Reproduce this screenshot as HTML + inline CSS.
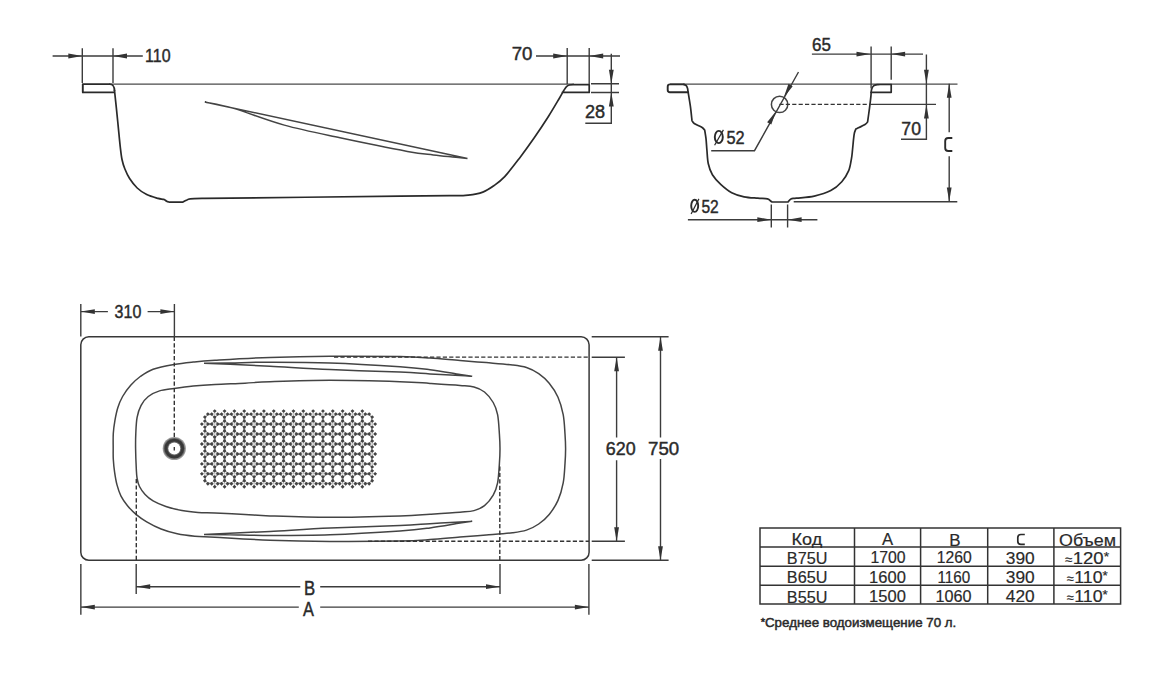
<!DOCTYPE html>
<html><head><meta charset="utf-8"><style>
html,body{margin:0;padding:0;background:#fff;width:1162px;height:686px;overflow:hidden}
svg{display:block}
.o{fill:none;stroke:#2a2a2a;stroke-width:1.7;stroke-linejoin:round;stroke-linecap:round}
.o2{fill:none;stroke:#383838;stroke-width:1.5}
.t{fill:none;stroke:#444;stroke-width:1.5}
.d{fill:none;stroke:#3c3c3c;stroke-width:1.4}
.tl{fill:none;stroke:#4a4a4a;stroke-width:1.4}
.dash{fill:none;stroke:#333;stroke-width:1.4;stroke-dasharray:4.2 2.2}
.tb{fill:none;stroke:#333;stroke-width:1.5}
polygon{fill:#333}
text{font-family:"Liberation Sans",sans-serif;fill:#2a2a2a;stroke:#2a2a2a;stroke-width:0.45}
text.tab{stroke-width:0.2}
text.foot{stroke-width:0.45}
</style></head><body>
<svg width="1162" height="686" viewBox="0 0 1162 686">
<path class="tl" d="M109,84.1 H574"/>
<path class="o" style="stroke-width:1.9" d="M82.8,92.3 V84.1 H109.7 C112.5,84.1 114.5,87 114.5,90.5"/>
<path class="o" d="M82.8,92.3 H114.3"/>
<path class="o" d="M114.50,90.50 C114.82,93.48 115.77,102.27 116.40,108.40 C117.03,114.53 117.67,120.98 118.30,127.30 C118.93,133.62 119.58,140.93 120.20,146.30 C120.82,151.67 121.22,155.72 122.00,159.50 C122.78,163.28 123.63,165.83 124.90,169.00 C126.17,172.17 127.55,175.33 129.60,178.50 C131.65,181.67 134.35,185.32 137.20,188.00 C140.05,190.68 143.23,192.87 146.70,194.60 C150.17,196.33 155.17,197.60 158.00,198.40 C160.83,199.20 162.27,198.93 163.70,199.40 C165.13,199.87 165.65,200.73 166.60,201.20 C167.55,201.67 168.93,202.03 169.40,202.20 L182.70,202.20 C183.32,201.88 185.15,200.85 186.40,200.30 C187.65,199.75 187.10,199.22 190.20,198.90 C193.30,198.58 202.53,198.48 205.00,198.40 C237.50,198.03 358.33,196.67 400.00,196.20 C441.67,195.73 443.63,195.77 455.00,195.60 C466.37,195.43 463.57,195.78 468.20,195.20 C472.83,194.62 478.53,193.68 482.80,192.10 C487.07,190.52 490.15,188.28 493.80,185.70 C497.45,183.12 500.45,181.15 504.70,176.60 C508.95,172.05 514.43,164.78 519.30,158.40 C524.17,152.02 529.05,145.28 533.90,138.30 C538.75,131.32 544.15,123.18 548.40,116.50 C552.65,109.82 556.88,102.45 559.40,98.20 C561.92,93.95 562.32,92.93 563.50,91.00 C564.68,89.07 565.50,87.60 566.50,86.60 C567.50,85.60 568.25,85.32 569.50,85.00 C570.75,84.68 573.25,84.75 574.00,84.70 L589.20,84.70 L589.20,92.40 L562.30,92.40"/>
<path class="t" d="M204.8,102 L467.5,158.5 M204.80,102.00 C209.62,103.07 220.45,104.55 233.70,108.40 C246.95,112.25 266.58,120.20 284.30,125.10 C302.02,130.00 319.48,133.42 340.00,137.80 C360.52,142.18 391.85,148.55 407.40,151.40 C422.95,154.25 425.77,153.97 433.30,154.90 C440.83,155.83 446.90,156.40 452.60,157.00 C458.30,157.60 465.02,158.25 467.50,158.50"/>
<path class="d" d="M52.6,56 H142.8 M82.3,48.3 V83 M113,48.3 V83"/>
<polygon points="82.3,56.0 68.3,53.6 68.3,58.4"/>
<polygon points="113.0,56.0 127.0,53.6 127.0,58.4"/>
<path class="d" d="M536,56 H620 M567.2,48 V84 M589.2,48 V84"/>
<polygon points="567.2,56.0 553.2,53.6 553.2,58.4"/>
<polygon points="589.2,56.0 603.2,53.6 603.2,58.4"/>
<path class="d" d="M591,83.7 H619 M591,92.5 H619 M611.3,53.8 V123.3 H585.3"/>
<polygon points="611.3,83.7 608.9,69.7 613.7,69.7"/>
<polygon points="611.3,92.5 608.9,106.5 613.7,106.5"/>
<path class="tl" d="M670,84.1 H957.5"/>
<path class="o" style="stroke-width:1.9" d="M684,84.4 H670 Q667.7,84.4 667.7,86.7 V90 Q667.7,92.2 670,92.2 H688.2"/>
<path class="o" d="M683.80,84.40 C684.22,84.60 685.67,84.90 686.30,85.60 C686.93,86.30 687.32,87.65 687.60,88.60 C687.88,89.55 687.53,88.33 688.00,91.30 C688.47,94.27 689.73,101.50 690.40,106.40 C691.07,111.30 691.73,118.32 692.00,120.70 C692.37,121.17 692.57,122.40 694.20,123.50 C695.83,124.60 700.05,126.20 701.80,127.30 C703.55,128.40 704.22,129.63 704.70,130.10 C704.92,131.53 705.63,135.38 706.00,138.70 C706.37,142.02 706.52,145.82 706.90,150.00 C707.28,154.18 707.38,159.67 708.30,163.80 C709.22,167.93 710.33,171.37 712.40,174.80 C714.47,178.23 717.48,181.42 720.70,184.40 C723.92,187.38 727.80,190.63 731.70,192.70 C735.60,194.77 739.75,195.88 744.10,196.80 C748.45,197.72 753.90,197.85 757.80,198.20 C761.70,198.55 765.32,198.40 767.50,198.90 C769.68,199.40 770.10,200.68 770.90,201.20 C771.70,201.72 772.07,201.87 772.30,202.00 L788.10,202.00 C788.57,201.48 789.52,199.53 790.90,198.90 C792.28,198.27 792.50,198.67 796.40,198.20 C800.30,197.73 808.57,197.37 814.30,196.10 C820.03,194.83 826.22,193.00 830.80,190.60 C835.38,188.20 838.82,185.02 841.80,181.70 C844.78,178.38 847.08,174.60 848.70,170.70 C850.32,166.80 850.87,161.75 851.50,158.30 C852.13,154.85 852.15,153.27 852.50,150.00 C852.85,146.73 853.28,141.53 853.60,138.70 C853.92,135.87 854.03,134.60 854.40,133.00 C854.77,131.40 855.57,129.75 855.80,129.10 C857.33,128.33 863.03,125.70 865.00,124.50 C866.97,123.30 867.17,122.33 867.60,121.90 C867.92,119.60 868.95,112.37 869.50,108.10 C870.05,103.83 870.57,99.37 870.90,96.30 C871.23,93.23 871.07,91.45 871.50,89.70 C871.93,87.95 872.42,86.65 873.50,85.80 C874.58,84.95 876.58,84.82 878.00,84.60 C879.42,84.38 881.33,84.52 882.00,84.50 L891.20,84.50"/>
<path class="o" d="M871,92.3 H891.2 V84.5"/>
<circle class="t" cx="779.6" cy="104.4" r="8.2"/>
<path class="dash" d="M779.4,104.4 H870"/>
<path class="d" d="M870,104.4 H936"/>
<path class="d" d="M798.5,72 L754.5,150.7 H711.2"/>
<polygon points="783.8,97.2 788.5,83.8 792.7,86.2"/>
<polygon points="776.0,111.2 771.3,124.6 767.1,122.2"/>
<path class="d" d="M811.9,54.1 H923 M871.1,46.6 V88.4 M891.2,46.6 V79.8"/>
<polygon points="870.5,54.1 856.5,51.7 856.5,56.5"/>
<polygon points="891.1,54.1 905.1,51.7 905.1,56.5"/>
<path class="d" d="M926.4,54.5 V139.3 H901"/>
<polygon points="926.4,83.8 924.0,69.8 928.8,69.8"/>
<polygon points="926.4,104.4 924.0,118.4 928.8,118.4"/>
<path class="d" d="M949.2,83.8 V132.3 M949.2,156.3 V201.4 M793.7,201.7 H957.3"/>
<polygon points="949.2,83.8 946.8,97.8 951.6,97.8"/>
<polygon points="949.2,201.4 946.8,187.4 951.6,187.4"/>
<path class="d" d="M771.3,204.5 V227.6 M787.6,204.5 V227.6 M687.9,219.7 H817.4"/>
<polygon points="771.3,219.7 757.3,217.3 757.3,222.1"/>
<polygon points="787.6,219.7 801.6,217.3 801.6,222.1"/>
<ellipse cx="718.8" cy="137" rx="4.0" ry="6.1" fill="none" stroke="#2a2a2a" stroke-width="1.9"/><path d="M714.6,145.3 L723.4,129.9" stroke="#2a2a2a" stroke-width="1.2"/>
<ellipse cx="694.7" cy="205.8" rx="3.5" ry="6.1" fill="none" stroke="#2a2a2a" stroke-width="1.9"/><path d="M691.1,214 L698.9,198.9" stroke="#2a2a2a" stroke-width="1.2"/>
<path d="M952.3,138 H948.3 Q945.2,138 945.2,141.1 V147.9 Q945.2,151 948.3,151 H952.3" fill="none" stroke="#2a2a2a" stroke-width="1.9"/>
<path d="M1024.8,534.5 H1020.9 Q1017.8,534.5 1017.8,537.6 V541.2 Q1017.8,544.3 1020.9,544.3 H1024.8" fill="none" stroke="#2a2a2a" stroke-width="1.7"/>
<rect class="o2" x="80.8" y="336.8" width="508.3" height="223.4" rx="8" ry="8"/>
<path class="t" d="M113.20,448.80 C113.20,444.50 113.02,438.10 113.30,433.40 C113.58,428.70 114.15,424.88 114.90,420.60 C115.65,416.32 116.52,411.72 117.80,407.70 C119.08,403.68 120.45,400.23 122.60,396.50 C124.75,392.77 127.75,388.63 130.70,385.30 C133.65,381.97 136.57,379.18 140.30,376.50 C144.03,373.82 147.48,371.22 153.10,369.20 C158.72,367.18 167.32,365.60 174.00,364.40 C180.68,363.20 186.37,362.68 193.20,362.00 C200.03,361.32 202.20,361.07 215.00,360.30 C227.80,359.53 250.83,358.08 270.00,357.40 C289.17,356.72 308.33,356.33 330.00,356.20 C351.67,356.07 383.33,356.30 400.00,356.60 C416.67,356.90 420.00,357.33 430.00,358.00 C440.00,358.67 450.63,359.83 460.00,360.60 C469.37,361.37 477.45,361.88 486.20,362.60 C494.95,363.32 505.78,364.08 512.50,364.90 C519.22,365.72 522.13,366.05 526.50,367.50 C530.87,368.95 534.92,370.98 538.70,373.60 C542.48,376.22 545.98,379.27 549.20,383.20 C552.42,387.13 555.67,391.95 558.00,397.20 C560.33,402.45 562.03,408.57 563.20,414.70 C564.37,420.83 564.60,428.32 565.00,434.00 C565.40,439.68 565.60,443.87 565.60,448.80 C565.60,453.73 565.40,457.92 565.00,463.60 C564.60,469.28 564.37,476.77 563.20,482.90 C562.03,489.03 560.33,495.15 558.00,500.40 C555.67,505.65 552.42,510.47 549.20,514.40 C545.98,518.33 542.48,521.38 538.70,524.00 C534.92,526.62 530.87,528.65 526.50,530.10 C522.13,531.55 519.22,531.88 512.50,532.70 C505.78,533.52 494.95,534.28 486.20,535.00 C477.45,535.72 469.37,536.23 460.00,537.00 C450.63,537.77 440.00,538.93 430.00,539.60 C420.00,540.27 416.67,540.70 400.00,541.00 C383.33,541.30 351.67,541.53 330.00,541.40 C308.33,541.27 289.17,540.88 270.00,540.20 C250.83,539.52 227.53,537.97 215.00,537.30 C202.47,536.63 201.10,536.78 194.80,536.20 C188.50,535.62 182.82,535.00 177.20,533.80 C171.58,532.60 166.18,531.00 161.10,529.00 C156.02,527.00 150.83,524.20 146.70,521.80 C142.57,519.40 139.50,517.28 136.30,514.60 C133.10,511.92 130.05,508.78 127.50,505.70 C124.95,502.62 122.75,499.57 121.00,496.10 C119.25,492.63 118.07,488.90 117.00,484.90 C115.93,480.90 115.22,476.38 114.60,472.10 C113.98,467.82 113.53,463.08 113.30,459.20 C113.07,455.32 113.20,453.10 113.20,448.80 Z"/>
<path class="t" d="M135.60,448.80 C135.52,442.88 135.55,438.63 135.80,433.40 C136.05,428.17 136.22,422.08 137.10,417.40 C137.98,412.72 139.23,408.78 141.10,405.30 C142.97,401.82 145.23,398.90 148.30,396.50 C151.37,394.10 155.22,392.23 159.50,390.90 C163.78,389.57 168.38,389.30 174.00,388.50 C179.62,387.70 186.37,386.77 193.20,386.10 C200.03,385.43 206.37,384.98 215.00,384.50 C223.63,384.02 235.83,383.67 245.00,383.20 C254.17,382.73 255.83,382.18 270.00,381.70 C284.17,381.22 308.33,380.30 330.00,380.30 C351.67,380.30 383.33,381.18 400.00,381.70 C416.67,382.22 420.00,382.78 430.00,383.40 C440.00,384.02 452.67,384.80 460.00,385.40 C467.33,386.00 469.92,385.90 474.00,387.00 C478.08,388.10 481.30,389.42 484.50,392.00 C487.70,394.58 491.02,398.72 493.20,402.50 C495.38,406.28 496.57,409.45 497.60,414.70 C498.63,419.95 499.00,428.32 499.40,434.00 C499.80,439.68 500.00,443.87 500.00,448.80 C500.00,453.73 499.80,457.92 499.40,463.60 C499.00,469.28 498.63,477.65 497.60,482.90 C496.57,488.15 495.38,491.32 493.20,495.10 C491.02,498.88 487.70,503.02 484.50,505.60 C481.30,508.18 478.08,509.50 474.00,510.60 C469.92,511.70 467.33,511.60 460.00,512.20 C452.67,512.80 440.00,513.58 430.00,514.20 C420.00,514.82 416.67,515.38 400.00,515.90 C383.33,516.42 351.67,517.30 330.00,517.30 C308.33,517.30 284.17,516.38 270.00,515.90 C255.83,515.42 254.17,514.87 245.00,514.40 C235.83,513.93 222.83,513.42 215.00,513.10 C207.17,512.78 203.50,512.92 198.00,512.50 C192.50,512.08 187.35,511.60 182.00,510.60 C176.65,509.60 170.72,508.12 165.90,506.50 C161.08,504.88 156.57,502.90 153.10,500.90 C149.63,498.90 147.37,496.90 145.10,494.50 C142.83,492.10 140.83,489.17 139.50,486.50 C138.17,483.83 137.63,481.43 137.10,478.50 C136.57,475.57 136.55,473.85 136.30,468.90 C136.05,463.95 135.68,454.72 135.60,448.80 Z"/>
<path class="t" d="M204.00,363.20 C208.33,363.15 219.00,363.07 230.00,362.90 C241.00,362.73 253.33,362.20 270.00,362.20 C286.67,362.20 308.33,362.15 330.00,362.90 C351.67,363.65 383.33,365.57 400.00,366.70 C416.67,367.83 420.00,368.40 430.00,369.70 C440.00,371.00 452.97,373.40 460.00,374.50 C467.03,375.60 470.17,376.00 472.20,376.30 M204.00,363.20 C208.33,363.38 219.00,363.80 230.00,364.30 C241.00,364.80 253.33,365.32 270.00,366.20 C286.67,367.08 308.33,368.62 330.00,369.60 C351.67,370.58 383.33,371.38 400.00,372.10 C416.67,372.82 420.00,373.33 430.00,373.90 C440.00,374.47 452.97,375.10 460.00,375.50 C467.03,375.90 470.17,376.17 472.20,376.30"/>
<path class="t" d="M204.00,534.40 C208.33,534.45 219.00,534.53 230.00,534.70 C241.00,534.87 253.33,535.40 270.00,535.40 C286.67,535.40 308.33,535.45 330.00,534.70 C351.67,533.95 383.33,532.03 400.00,530.90 C416.67,529.77 420.00,529.20 430.00,527.90 C440.00,526.60 452.97,524.20 460.00,523.10 C467.03,522.00 470.17,521.60 472.20,521.30 M204.00,534.40 C208.33,534.22 219.00,533.80 230.00,533.30 C241.00,532.80 253.33,532.28 270.00,531.40 C286.67,530.52 308.33,528.98 330.00,528.00 C351.67,527.02 383.33,526.22 400.00,525.50 C416.67,524.78 420.00,524.27 430.00,523.70 C440.00,523.13 452.97,522.50 460.00,522.10 C467.03,521.70 470.17,521.43 472.20,521.30"/>
<circle cx="174.3" cy="448.5" r="11.6" fill="#9a9a9a"/><circle cx="174.3" cy="448.5" r="10.6" fill="#666"/><circle cx="174.3" cy="448.5" r="8.4" fill="none" stroke="#383838" stroke-width="2.8"/><circle cx="174.3" cy="448.5" r="6.0" fill="#fff"/>
<path class="d" d="M174.3,447 V450.4"/>
<path class="dash" d="M174.3,336.8 V438 M334,357.1 H589 M368,541.2 H589 M136.3,479 V560 M499.8,466.5 V560"/>
<path class="d" d="M80.8,304 V336.6 M174.4,304 V337 M80.8,311.6 H107.9 M147.6,311.6 H174.4"/>
<polygon points="80.8,311.6 94.8,309.2 94.8,314.0"/>
<polygon points="174.4,311.6 160.4,309.2 160.4,314.0"/>
<path class="d" d="M591.7,336.7 H668.6 M591.7,357.2 H624.9 M591.7,541.2 H624.9 M591.7,560.3 H668.6 M616.6,357.2 V437.5 M616.6,460.2 V541.2 M660.5,336.7 V437.5 M660.5,459 V560.3"/>
<polygon points="616.6,357.2 614.2,371.2 619.0,371.2"/>
<polygon points="616.6,541.2 614.2,527.2 619.0,527.2"/>
<polygon points="660.5,336.7 658.1,350.7 662.9,350.7"/>
<polygon points="660.5,560.3 658.1,546.3 662.9,546.3"/>
<path class="d" d="M80.85,563.9 V614.8 M588.9,563.9 V614.8 M136.2,563.9 V594.1 M500,563.9 V594.1 M136.2,586.7 H300.3 M320.2,586.7 H500 M80.85,607.1 H298.8 M320.2,607.1 H588.9"/>
<polygon points="136.2,586.7 150.2,584.3 150.2,589.1"/>
<polygon points="500.0,586.7 486.0,584.3 486.0,589.1"/>
<polygon points="80.8,607.1 94.8,604.7 94.8,609.5"/>
<polygon points="588.9,607.1 574.9,604.7 574.9,609.5"/>
<g fill="#c4c4c4"><circle cx="204.88" cy="424.08" r="1.00"/><circle cx="204.88" cy="434.03" r="1.00"/><circle cx="204.88" cy="443.98" r="1.00"/><circle cx="204.88" cy="453.93" r="1.00"/><circle cx="204.88" cy="463.88" r="1.00"/><circle cx="204.88" cy="473.83" r="1.00"/><circle cx="214.72" cy="414.12" r="1.00"/><circle cx="214.72" cy="424.08" r="1.00"/><circle cx="214.72" cy="434.03" r="1.00"/><circle cx="214.72" cy="443.98" r="1.00"/><circle cx="214.72" cy="453.93" r="1.00"/><circle cx="214.72" cy="463.88" r="1.00"/><circle cx="214.72" cy="473.83" r="1.00"/><circle cx="214.72" cy="483.78" r="1.00"/><circle cx="224.56" cy="414.12" r="1.00"/><circle cx="224.56" cy="424.08" r="1.00"/><circle cx="224.56" cy="434.03" r="1.00"/><circle cx="224.56" cy="443.98" r="1.00"/><circle cx="224.56" cy="453.93" r="1.00"/><circle cx="224.56" cy="463.88" r="1.00"/><circle cx="224.56" cy="473.83" r="1.00"/><circle cx="224.56" cy="483.78" r="1.00"/><circle cx="234.40" cy="414.12" r="1.00"/><circle cx="234.40" cy="424.08" r="1.00"/><circle cx="234.40" cy="434.03" r="1.00"/><circle cx="234.40" cy="443.98" r="1.00"/><circle cx="234.40" cy="453.93" r="1.00"/><circle cx="234.40" cy="463.88" r="1.00"/><circle cx="234.40" cy="473.83" r="1.00"/><circle cx="234.40" cy="483.78" r="1.00"/><circle cx="244.24" cy="414.12" r="1.00"/><circle cx="244.24" cy="424.08" r="1.00"/><circle cx="244.24" cy="434.03" r="1.00"/><circle cx="244.24" cy="443.98" r="1.00"/><circle cx="244.24" cy="453.93" r="1.00"/><circle cx="244.24" cy="463.88" r="1.00"/><circle cx="244.24" cy="473.83" r="1.00"/><circle cx="244.24" cy="483.78" r="1.00"/><circle cx="254.08" cy="414.12" r="1.00"/><circle cx="254.08" cy="424.08" r="1.00"/><circle cx="254.08" cy="434.03" r="1.00"/><circle cx="254.08" cy="443.98" r="1.00"/><circle cx="254.08" cy="453.93" r="1.00"/><circle cx="254.08" cy="463.88" r="1.00"/><circle cx="254.08" cy="473.83" r="1.00"/><circle cx="254.08" cy="483.78" r="1.00"/><circle cx="263.92" cy="414.12" r="1.00"/><circle cx="263.92" cy="424.08" r="1.00"/><circle cx="263.92" cy="434.03" r="1.00"/><circle cx="263.92" cy="443.98" r="1.00"/><circle cx="263.92" cy="453.93" r="1.00"/><circle cx="263.92" cy="463.88" r="1.00"/><circle cx="263.92" cy="473.83" r="1.00"/><circle cx="263.92" cy="483.78" r="1.00"/><circle cx="273.76" cy="414.12" r="1.00"/><circle cx="273.76" cy="424.08" r="1.00"/><circle cx="273.76" cy="434.03" r="1.00"/><circle cx="273.76" cy="443.98" r="1.00"/><circle cx="273.76" cy="453.93" r="1.00"/><circle cx="273.76" cy="463.88" r="1.00"/><circle cx="273.76" cy="473.83" r="1.00"/><circle cx="273.76" cy="483.78" r="1.00"/><circle cx="283.60" cy="414.12" r="1.00"/><circle cx="283.60" cy="424.08" r="1.00"/><circle cx="283.60" cy="434.03" r="1.00"/><circle cx="283.60" cy="443.98" r="1.00"/><circle cx="283.60" cy="453.93" r="1.00"/><circle cx="283.60" cy="463.88" r="1.00"/><circle cx="283.60" cy="473.83" r="1.00"/><circle cx="283.60" cy="483.78" r="1.00"/><circle cx="293.44" cy="414.12" r="1.00"/><circle cx="293.44" cy="424.08" r="1.00"/><circle cx="293.44" cy="434.03" r="1.00"/><circle cx="293.44" cy="443.98" r="1.00"/><circle cx="293.44" cy="453.93" r="1.00"/><circle cx="293.44" cy="463.88" r="1.00"/><circle cx="293.44" cy="473.83" r="1.00"/><circle cx="293.44" cy="483.78" r="1.00"/><circle cx="303.28" cy="414.12" r="1.00"/><circle cx="303.28" cy="424.08" r="1.00"/><circle cx="303.28" cy="434.03" r="1.00"/><circle cx="303.28" cy="443.98" r="1.00"/><circle cx="303.28" cy="453.93" r="1.00"/><circle cx="303.28" cy="463.88" r="1.00"/><circle cx="303.28" cy="473.83" r="1.00"/><circle cx="303.28" cy="483.78" r="1.00"/><circle cx="313.12" cy="414.12" r="1.00"/><circle cx="313.12" cy="424.08" r="1.00"/><circle cx="313.12" cy="434.03" r="1.00"/><circle cx="313.12" cy="443.98" r="1.00"/><circle cx="313.12" cy="453.93" r="1.00"/><circle cx="313.12" cy="463.88" r="1.00"/><circle cx="313.12" cy="473.83" r="1.00"/><circle cx="313.12" cy="483.78" r="1.00"/><circle cx="322.96" cy="414.12" r="1.00"/><circle cx="322.96" cy="424.08" r="1.00"/><circle cx="322.96" cy="434.03" r="1.00"/><circle cx="322.96" cy="443.98" r="1.00"/><circle cx="322.96" cy="453.93" r="1.00"/><circle cx="322.96" cy="463.88" r="1.00"/><circle cx="322.96" cy="473.83" r="1.00"/><circle cx="322.96" cy="483.78" r="1.00"/><circle cx="332.80" cy="414.12" r="1.00"/><circle cx="332.80" cy="424.08" r="1.00"/><circle cx="332.80" cy="434.03" r="1.00"/><circle cx="332.80" cy="443.98" r="1.00"/><circle cx="332.80" cy="453.93" r="1.00"/><circle cx="332.80" cy="463.88" r="1.00"/><circle cx="332.80" cy="473.83" r="1.00"/><circle cx="332.80" cy="483.78" r="1.00"/><circle cx="342.64" cy="414.12" r="1.00"/><circle cx="342.64" cy="424.08" r="1.00"/><circle cx="342.64" cy="434.03" r="1.00"/><circle cx="342.64" cy="443.98" r="1.00"/><circle cx="342.64" cy="453.93" r="1.00"/><circle cx="342.64" cy="463.88" r="1.00"/><circle cx="342.64" cy="473.83" r="1.00"/><circle cx="342.64" cy="483.78" r="1.00"/><circle cx="352.48" cy="414.12" r="1.00"/><circle cx="352.48" cy="424.08" r="1.00"/><circle cx="352.48" cy="434.03" r="1.00"/><circle cx="352.48" cy="443.98" r="1.00"/><circle cx="352.48" cy="453.93" r="1.00"/><circle cx="352.48" cy="463.88" r="1.00"/><circle cx="352.48" cy="473.83" r="1.00"/><circle cx="352.48" cy="483.78" r="1.00"/><circle cx="362.32" cy="414.12" r="1.00"/><circle cx="362.32" cy="424.08" r="1.00"/><circle cx="362.32" cy="434.03" r="1.00"/><circle cx="362.32" cy="443.98" r="1.00"/><circle cx="362.32" cy="453.93" r="1.00"/><circle cx="362.32" cy="463.88" r="1.00"/><circle cx="362.32" cy="473.83" r="1.00"/><circle cx="362.32" cy="483.78" r="1.00"/><circle cx="372.16" cy="424.08" r="1.00"/><circle cx="372.16" cy="434.03" r="1.00"/><circle cx="372.16" cy="443.98" r="1.00"/><circle cx="372.16" cy="453.93" r="1.00"/><circle cx="372.16" cy="463.88" r="1.00"/><circle cx="372.16" cy="473.83" r="1.00"/></g>
<g fill="none" stroke="#999" stroke-width="1.20"><circle cx="209.80" cy="419.10" r="4.40"/><circle cx="209.80" cy="429.05" r="4.40"/><circle cx="209.80" cy="439.00" r="4.40"/><circle cx="209.80" cy="448.95" r="4.40"/><circle cx="209.80" cy="458.90" r="4.40"/><circle cx="209.80" cy="468.85" r="4.40"/><circle cx="209.80" cy="478.80" r="4.40"/><circle cx="219.64" cy="419.10" r="4.40"/><circle cx="219.64" cy="429.05" r="4.40"/><circle cx="219.64" cy="439.00" r="4.40"/><circle cx="219.64" cy="448.95" r="4.40"/><circle cx="219.64" cy="458.90" r="4.40"/><circle cx="219.64" cy="468.85" r="4.40"/><circle cx="219.64" cy="478.80" r="4.40"/><circle cx="229.48" cy="419.10" r="4.40"/><circle cx="229.48" cy="429.05" r="4.40"/><circle cx="229.48" cy="439.00" r="4.40"/><circle cx="229.48" cy="448.95" r="4.40"/><circle cx="229.48" cy="458.90" r="4.40"/><circle cx="229.48" cy="468.85" r="4.40"/><circle cx="229.48" cy="478.80" r="4.40"/><circle cx="239.32" cy="419.10" r="4.40"/><circle cx="239.32" cy="429.05" r="4.40"/><circle cx="239.32" cy="439.00" r="4.40"/><circle cx="239.32" cy="448.95" r="4.40"/><circle cx="239.32" cy="458.90" r="4.40"/><circle cx="239.32" cy="468.85" r="4.40"/><circle cx="239.32" cy="478.80" r="4.40"/><circle cx="249.16" cy="419.10" r="4.40"/><circle cx="249.16" cy="429.05" r="4.40"/><circle cx="249.16" cy="439.00" r="4.40"/><circle cx="249.16" cy="448.95" r="4.40"/><circle cx="249.16" cy="458.90" r="4.40"/><circle cx="249.16" cy="468.85" r="4.40"/><circle cx="249.16" cy="478.80" r="4.40"/><circle cx="259.00" cy="419.10" r="4.40"/><circle cx="259.00" cy="429.05" r="4.40"/><circle cx="259.00" cy="439.00" r="4.40"/><circle cx="259.00" cy="448.95" r="4.40"/><circle cx="259.00" cy="458.90" r="4.40"/><circle cx="259.00" cy="468.85" r="4.40"/><circle cx="259.00" cy="478.80" r="4.40"/><circle cx="268.84" cy="419.10" r="4.40"/><circle cx="268.84" cy="429.05" r="4.40"/><circle cx="268.84" cy="439.00" r="4.40"/><circle cx="268.84" cy="448.95" r="4.40"/><circle cx="268.84" cy="458.90" r="4.40"/><circle cx="268.84" cy="468.85" r="4.40"/><circle cx="268.84" cy="478.80" r="4.40"/><circle cx="278.68" cy="419.10" r="4.40"/><circle cx="278.68" cy="429.05" r="4.40"/><circle cx="278.68" cy="439.00" r="4.40"/><circle cx="278.68" cy="448.95" r="4.40"/><circle cx="278.68" cy="458.90" r="4.40"/><circle cx="278.68" cy="468.85" r="4.40"/><circle cx="278.68" cy="478.80" r="4.40"/><circle cx="288.52" cy="419.10" r="4.40"/><circle cx="288.52" cy="429.05" r="4.40"/><circle cx="288.52" cy="439.00" r="4.40"/><circle cx="288.52" cy="448.95" r="4.40"/><circle cx="288.52" cy="458.90" r="4.40"/><circle cx="288.52" cy="468.85" r="4.40"/><circle cx="288.52" cy="478.80" r="4.40"/><circle cx="298.36" cy="419.10" r="4.40"/><circle cx="298.36" cy="429.05" r="4.40"/><circle cx="298.36" cy="439.00" r="4.40"/><circle cx="298.36" cy="448.95" r="4.40"/><circle cx="298.36" cy="458.90" r="4.40"/><circle cx="298.36" cy="468.85" r="4.40"/><circle cx="298.36" cy="478.80" r="4.40"/><circle cx="308.20" cy="419.10" r="4.40"/><circle cx="308.20" cy="429.05" r="4.40"/><circle cx="308.20" cy="439.00" r="4.40"/><circle cx="308.20" cy="448.95" r="4.40"/><circle cx="308.20" cy="458.90" r="4.40"/><circle cx="308.20" cy="468.85" r="4.40"/><circle cx="308.20" cy="478.80" r="4.40"/><circle cx="318.04" cy="419.10" r="4.40"/><circle cx="318.04" cy="429.05" r="4.40"/><circle cx="318.04" cy="439.00" r="4.40"/><circle cx="318.04" cy="448.95" r="4.40"/><circle cx="318.04" cy="458.90" r="4.40"/><circle cx="318.04" cy="468.85" r="4.40"/><circle cx="318.04" cy="478.80" r="4.40"/><circle cx="327.88" cy="419.10" r="4.40"/><circle cx="327.88" cy="429.05" r="4.40"/><circle cx="327.88" cy="439.00" r="4.40"/><circle cx="327.88" cy="448.95" r="4.40"/><circle cx="327.88" cy="458.90" r="4.40"/><circle cx="327.88" cy="468.85" r="4.40"/><circle cx="327.88" cy="478.80" r="4.40"/><circle cx="337.72" cy="419.10" r="4.40"/><circle cx="337.72" cy="429.05" r="4.40"/><circle cx="337.72" cy="439.00" r="4.40"/><circle cx="337.72" cy="448.95" r="4.40"/><circle cx="337.72" cy="458.90" r="4.40"/><circle cx="337.72" cy="468.85" r="4.40"/><circle cx="337.72" cy="478.80" r="4.40"/><circle cx="347.56" cy="419.10" r="4.40"/><circle cx="347.56" cy="429.05" r="4.40"/><circle cx="347.56" cy="439.00" r="4.40"/><circle cx="347.56" cy="448.95" r="4.40"/><circle cx="347.56" cy="458.90" r="4.40"/><circle cx="347.56" cy="468.85" r="4.40"/><circle cx="347.56" cy="478.80" r="4.40"/><circle cx="357.40" cy="419.10" r="4.40"/><circle cx="357.40" cy="429.05" r="4.40"/><circle cx="357.40" cy="439.00" r="4.40"/><circle cx="357.40" cy="448.95" r="4.40"/><circle cx="357.40" cy="458.90" r="4.40"/><circle cx="357.40" cy="468.85" r="4.40"/><circle cx="357.40" cy="478.80" r="4.40"/><circle cx="367.24" cy="419.10" r="4.40"/><circle cx="367.24" cy="429.05" r="4.40"/><circle cx="367.24" cy="439.00" r="4.40"/><circle cx="367.24" cy="448.95" r="4.40"/><circle cx="367.24" cy="458.90" r="4.40"/><circle cx="367.24" cy="468.85" r="4.40"/><circle cx="367.24" cy="478.80" r="4.40"/></g>
<path fill="#444" d="M205.93,414.12l1.95,-1.95l1.95,1.95l-1.95,1.95zM202.93,417.12l1.95,-1.95l1.95,1.95l-1.95,1.95zM205.93,424.08l1.95,-1.95l1.95,1.95l-1.95,1.95zM199.93,424.08l1.95,-1.95l1.95,1.95l-1.95,1.95zM202.93,427.08l1.95,-1.95l1.95,1.95l-1.95,1.95zM202.93,421.08l1.95,-1.95l1.95,1.95l-1.95,1.95zM205.93,434.03l1.95,-1.95l1.95,1.95l-1.95,1.95zM199.93,434.03l1.95,-1.95l1.95,1.95l-1.95,1.95zM202.93,437.03l1.95,-1.95l1.95,1.95l-1.95,1.95zM202.93,431.03l1.95,-1.95l1.95,1.95l-1.95,1.95zM205.93,443.98l1.95,-1.95l1.95,1.95l-1.95,1.95zM199.93,443.98l1.95,-1.95l1.95,1.95l-1.95,1.95zM202.93,446.98l1.95,-1.95l1.95,1.95l-1.95,1.95zM202.93,440.98l1.95,-1.95l1.95,1.95l-1.95,1.95zM205.93,453.93l1.95,-1.95l1.95,1.95l-1.95,1.95zM199.93,453.93l1.95,-1.95l1.95,1.95l-1.95,1.95zM202.93,456.93l1.95,-1.95l1.95,1.95l-1.95,1.95zM202.93,450.93l1.95,-1.95l1.95,1.95l-1.95,1.95zM205.93,463.88l1.95,-1.95l1.95,1.95l-1.95,1.95zM199.93,463.88l1.95,-1.95l1.95,1.95l-1.95,1.95zM202.93,466.88l1.95,-1.95l1.95,1.95l-1.95,1.95zM202.93,460.88l1.95,-1.95l1.95,1.95l-1.95,1.95zM205.93,473.83l1.95,-1.95l1.95,1.95l-1.95,1.95zM199.93,473.83l1.95,-1.95l1.95,1.95l-1.95,1.95zM202.93,476.83l1.95,-1.95l1.95,1.95l-1.95,1.95zM202.93,470.83l1.95,-1.95l1.95,1.95l-1.95,1.95zM205.93,483.78l1.95,-1.95l1.95,1.95l-1.95,1.95zM202.93,480.78l1.95,-1.95l1.95,1.95l-1.95,1.95zM215.77,414.12l1.95,-1.95l1.95,1.95l-1.95,1.95zM209.77,414.12l1.95,-1.95l1.95,1.95l-1.95,1.95zM212.77,417.12l1.95,-1.95l1.95,1.95l-1.95,1.95zM212.77,411.12l1.95,-1.95l1.95,1.95l-1.95,1.95zM215.77,424.08l1.95,-1.95l1.95,1.95l-1.95,1.95zM209.77,424.08l1.95,-1.95l1.95,1.95l-1.95,1.95zM212.77,427.08l1.95,-1.95l1.95,1.95l-1.95,1.95zM212.77,421.08l1.95,-1.95l1.95,1.95l-1.95,1.95zM215.77,434.03l1.95,-1.95l1.95,1.95l-1.95,1.95zM209.77,434.03l1.95,-1.95l1.95,1.95l-1.95,1.95zM212.77,437.03l1.95,-1.95l1.95,1.95l-1.95,1.95zM212.77,431.03l1.95,-1.95l1.95,1.95l-1.95,1.95zM215.77,443.98l1.95,-1.95l1.95,1.95l-1.95,1.95zM209.77,443.98l1.95,-1.95l1.95,1.95l-1.95,1.95zM212.77,446.98l1.95,-1.95l1.95,1.95l-1.95,1.95zM212.77,440.98l1.95,-1.95l1.95,1.95l-1.95,1.95zM215.77,453.93l1.95,-1.95l1.95,1.95l-1.95,1.95zM209.77,453.93l1.95,-1.95l1.95,1.95l-1.95,1.95zM212.77,456.93l1.95,-1.95l1.95,1.95l-1.95,1.95zM212.77,450.93l1.95,-1.95l1.95,1.95l-1.95,1.95zM215.77,463.88l1.95,-1.95l1.95,1.95l-1.95,1.95zM209.77,463.88l1.95,-1.95l1.95,1.95l-1.95,1.95zM212.77,466.88l1.95,-1.95l1.95,1.95l-1.95,1.95zM212.77,460.88l1.95,-1.95l1.95,1.95l-1.95,1.95zM215.77,473.83l1.95,-1.95l1.95,1.95l-1.95,1.95zM209.77,473.83l1.95,-1.95l1.95,1.95l-1.95,1.95zM212.77,476.83l1.95,-1.95l1.95,1.95l-1.95,1.95zM212.77,470.83l1.95,-1.95l1.95,1.95l-1.95,1.95zM215.77,483.78l1.95,-1.95l1.95,1.95l-1.95,1.95zM209.77,483.78l1.95,-1.95l1.95,1.95l-1.95,1.95zM212.77,486.78l1.95,-1.95l1.95,1.95l-1.95,1.95zM212.77,480.78l1.95,-1.95l1.95,1.95l-1.95,1.95zM225.61,414.12l1.95,-1.95l1.95,1.95l-1.95,1.95zM219.61,414.12l1.95,-1.95l1.95,1.95l-1.95,1.95zM222.61,417.12l1.95,-1.95l1.95,1.95l-1.95,1.95zM222.61,411.12l1.95,-1.95l1.95,1.95l-1.95,1.95zM225.61,424.08l1.95,-1.95l1.95,1.95l-1.95,1.95zM219.61,424.08l1.95,-1.95l1.95,1.95l-1.95,1.95zM222.61,427.08l1.95,-1.95l1.95,1.95l-1.95,1.95zM222.61,421.08l1.95,-1.95l1.95,1.95l-1.95,1.95zM225.61,434.03l1.95,-1.95l1.95,1.95l-1.95,1.95zM219.61,434.03l1.95,-1.95l1.95,1.95l-1.95,1.95zM222.61,437.03l1.95,-1.95l1.95,1.95l-1.95,1.95zM222.61,431.03l1.95,-1.95l1.95,1.95l-1.95,1.95zM225.61,443.98l1.95,-1.95l1.95,1.95l-1.95,1.95zM219.61,443.98l1.95,-1.95l1.95,1.95l-1.95,1.95zM222.61,446.98l1.95,-1.95l1.95,1.95l-1.95,1.95zM222.61,440.98l1.95,-1.95l1.95,1.95l-1.95,1.95zM225.61,453.93l1.95,-1.95l1.95,1.95l-1.95,1.95zM219.61,453.93l1.95,-1.95l1.95,1.95l-1.95,1.95zM222.61,456.93l1.95,-1.95l1.95,1.95l-1.95,1.95zM222.61,450.93l1.95,-1.95l1.95,1.95l-1.95,1.95zM225.61,463.88l1.95,-1.95l1.95,1.95l-1.95,1.95zM219.61,463.88l1.95,-1.95l1.95,1.95l-1.95,1.95zM222.61,466.88l1.95,-1.95l1.95,1.95l-1.95,1.95zM222.61,460.88l1.95,-1.95l1.95,1.95l-1.95,1.95zM225.61,473.83l1.95,-1.95l1.95,1.95l-1.95,1.95zM219.61,473.83l1.95,-1.95l1.95,1.95l-1.95,1.95zM222.61,476.83l1.95,-1.95l1.95,1.95l-1.95,1.95zM222.61,470.83l1.95,-1.95l1.95,1.95l-1.95,1.95zM225.61,483.78l1.95,-1.95l1.95,1.95l-1.95,1.95zM219.61,483.78l1.95,-1.95l1.95,1.95l-1.95,1.95zM222.61,486.78l1.95,-1.95l1.95,1.95l-1.95,1.95zM222.61,480.78l1.95,-1.95l1.95,1.95l-1.95,1.95zM235.45,414.12l1.95,-1.95l1.95,1.95l-1.95,1.95zM229.45,414.12l1.95,-1.95l1.95,1.95l-1.95,1.95zM232.45,417.12l1.95,-1.95l1.95,1.95l-1.95,1.95zM232.45,411.12l1.95,-1.95l1.95,1.95l-1.95,1.95zM235.45,424.08l1.95,-1.95l1.95,1.95l-1.95,1.95zM229.45,424.08l1.95,-1.95l1.95,1.95l-1.95,1.95zM232.45,427.08l1.95,-1.95l1.95,1.95l-1.95,1.95zM232.45,421.08l1.95,-1.95l1.95,1.95l-1.95,1.95zM235.45,434.03l1.95,-1.95l1.95,1.95l-1.95,1.95zM229.45,434.03l1.95,-1.95l1.95,1.95l-1.95,1.95zM232.45,437.03l1.95,-1.95l1.95,1.95l-1.95,1.95zM232.45,431.03l1.95,-1.95l1.95,1.95l-1.95,1.95zM235.45,443.98l1.95,-1.95l1.95,1.95l-1.95,1.95zM229.45,443.98l1.95,-1.95l1.95,1.95l-1.95,1.95zM232.45,446.98l1.95,-1.95l1.95,1.95l-1.95,1.95zM232.45,440.98l1.95,-1.95l1.95,1.95l-1.95,1.95zM235.45,453.93l1.95,-1.95l1.95,1.95l-1.95,1.95zM229.45,453.93l1.95,-1.95l1.95,1.95l-1.95,1.95zM232.45,456.93l1.95,-1.95l1.95,1.95l-1.95,1.95zM232.45,450.93l1.95,-1.95l1.95,1.95l-1.95,1.95zM235.45,463.88l1.95,-1.95l1.95,1.95l-1.95,1.95zM229.45,463.88l1.95,-1.95l1.95,1.95l-1.95,1.95zM232.45,466.88l1.95,-1.95l1.95,1.95l-1.95,1.95zM232.45,460.88l1.95,-1.95l1.95,1.95l-1.95,1.95zM235.45,473.83l1.95,-1.95l1.95,1.95l-1.95,1.95zM229.45,473.83l1.95,-1.95l1.95,1.95l-1.95,1.95zM232.45,476.83l1.95,-1.95l1.95,1.95l-1.95,1.95zM232.45,470.83l1.95,-1.95l1.95,1.95l-1.95,1.95zM235.45,483.78l1.95,-1.95l1.95,1.95l-1.95,1.95zM229.45,483.78l1.95,-1.95l1.95,1.95l-1.95,1.95zM232.45,486.78l1.95,-1.95l1.95,1.95l-1.95,1.95zM232.45,480.78l1.95,-1.95l1.95,1.95l-1.95,1.95zM245.29,414.12l1.95,-1.95l1.95,1.95l-1.95,1.95zM239.29,414.12l1.95,-1.95l1.95,1.95l-1.95,1.95zM242.29,417.12l1.95,-1.95l1.95,1.95l-1.95,1.95zM242.29,411.12l1.95,-1.95l1.95,1.95l-1.95,1.95zM245.29,424.08l1.95,-1.95l1.95,1.95l-1.95,1.95zM239.29,424.08l1.95,-1.95l1.95,1.95l-1.95,1.95zM242.29,427.08l1.95,-1.95l1.95,1.95l-1.95,1.95zM242.29,421.08l1.95,-1.95l1.95,1.95l-1.95,1.95zM245.29,434.03l1.95,-1.95l1.95,1.95l-1.95,1.95zM239.29,434.03l1.95,-1.95l1.95,1.95l-1.95,1.95zM242.29,437.03l1.95,-1.95l1.95,1.95l-1.95,1.95zM242.29,431.03l1.95,-1.95l1.95,1.95l-1.95,1.95zM245.29,443.98l1.95,-1.95l1.95,1.95l-1.95,1.95zM239.29,443.98l1.95,-1.95l1.95,1.95l-1.95,1.95zM242.29,446.98l1.95,-1.95l1.95,1.95l-1.95,1.95zM242.29,440.98l1.95,-1.95l1.95,1.95l-1.95,1.95zM245.29,453.93l1.95,-1.95l1.95,1.95l-1.95,1.95zM239.29,453.93l1.95,-1.95l1.95,1.95l-1.95,1.95zM242.29,456.93l1.95,-1.95l1.95,1.95l-1.95,1.95zM242.29,450.93l1.95,-1.95l1.95,1.95l-1.95,1.95zM245.29,463.88l1.95,-1.95l1.95,1.95l-1.95,1.95zM239.29,463.88l1.95,-1.95l1.95,1.95l-1.95,1.95zM242.29,466.88l1.95,-1.95l1.95,1.95l-1.95,1.95zM242.29,460.88l1.95,-1.95l1.95,1.95l-1.95,1.95zM245.29,473.83l1.95,-1.95l1.95,1.95l-1.95,1.95zM239.29,473.83l1.95,-1.95l1.95,1.95l-1.95,1.95zM242.29,476.83l1.95,-1.95l1.95,1.95l-1.95,1.95zM242.29,470.83l1.95,-1.95l1.95,1.95l-1.95,1.95zM245.29,483.78l1.95,-1.95l1.95,1.95l-1.95,1.95zM239.29,483.78l1.95,-1.95l1.95,1.95l-1.95,1.95zM242.29,486.78l1.95,-1.95l1.95,1.95l-1.95,1.95zM242.29,480.78l1.95,-1.95l1.95,1.95l-1.95,1.95zM255.13,414.12l1.95,-1.95l1.95,1.95l-1.95,1.95zM249.13,414.12l1.95,-1.95l1.95,1.95l-1.95,1.95zM252.13,417.12l1.95,-1.95l1.95,1.95l-1.95,1.95zM252.13,411.12l1.95,-1.95l1.95,1.95l-1.95,1.95zM255.13,424.08l1.95,-1.95l1.95,1.95l-1.95,1.95zM249.13,424.08l1.95,-1.95l1.95,1.95l-1.95,1.95zM252.13,427.08l1.95,-1.95l1.95,1.95l-1.95,1.95zM252.13,421.08l1.95,-1.95l1.95,1.95l-1.95,1.95zM255.13,434.03l1.95,-1.95l1.95,1.95l-1.95,1.95zM249.13,434.03l1.95,-1.95l1.95,1.95l-1.95,1.95zM252.13,437.03l1.95,-1.95l1.95,1.95l-1.95,1.95zM252.13,431.03l1.95,-1.95l1.95,1.95l-1.95,1.95zM255.13,443.98l1.95,-1.95l1.95,1.95l-1.95,1.95zM249.13,443.98l1.95,-1.95l1.95,1.95l-1.95,1.95zM252.13,446.98l1.95,-1.95l1.95,1.95l-1.95,1.95zM252.13,440.98l1.95,-1.95l1.95,1.95l-1.95,1.95zM255.13,453.93l1.95,-1.95l1.95,1.95l-1.95,1.95zM249.13,453.93l1.95,-1.95l1.95,1.95l-1.95,1.95zM252.13,456.93l1.95,-1.95l1.95,1.95l-1.95,1.95zM252.13,450.93l1.95,-1.95l1.95,1.95l-1.95,1.95zM255.13,463.88l1.95,-1.95l1.95,1.95l-1.95,1.95zM249.13,463.88l1.95,-1.95l1.95,1.95l-1.95,1.95zM252.13,466.88l1.95,-1.95l1.95,1.95l-1.95,1.95zM252.13,460.88l1.95,-1.95l1.95,1.95l-1.95,1.95zM255.13,473.83l1.95,-1.95l1.95,1.95l-1.95,1.95zM249.13,473.83l1.95,-1.95l1.95,1.95l-1.95,1.95zM252.13,476.83l1.95,-1.95l1.95,1.95l-1.95,1.95zM252.13,470.83l1.95,-1.95l1.95,1.95l-1.95,1.95zM255.13,483.78l1.95,-1.95l1.95,1.95l-1.95,1.95zM249.13,483.78l1.95,-1.95l1.95,1.95l-1.95,1.95zM252.13,486.78l1.95,-1.95l1.95,1.95l-1.95,1.95zM252.13,480.78l1.95,-1.95l1.95,1.95l-1.95,1.95zM264.97,414.12l1.95,-1.95l1.95,1.95l-1.95,1.95zM258.97,414.12l1.95,-1.95l1.95,1.95l-1.95,1.95zM261.97,417.12l1.95,-1.95l1.95,1.95l-1.95,1.95zM261.97,411.12l1.95,-1.95l1.95,1.95l-1.95,1.95zM264.97,424.08l1.95,-1.95l1.95,1.95l-1.95,1.95zM258.97,424.08l1.95,-1.95l1.95,1.95l-1.95,1.95zM261.97,427.08l1.95,-1.95l1.95,1.95l-1.95,1.95zM261.97,421.08l1.95,-1.95l1.95,1.95l-1.95,1.95zM264.97,434.03l1.95,-1.95l1.95,1.95l-1.95,1.95zM258.97,434.03l1.95,-1.95l1.95,1.95l-1.95,1.95zM261.97,437.03l1.95,-1.95l1.95,1.95l-1.95,1.95zM261.97,431.03l1.95,-1.95l1.95,1.95l-1.95,1.95zM264.97,443.98l1.95,-1.95l1.95,1.95l-1.95,1.95zM258.97,443.98l1.95,-1.95l1.95,1.95l-1.95,1.95zM261.97,446.98l1.95,-1.95l1.95,1.95l-1.95,1.95zM261.97,440.98l1.95,-1.95l1.95,1.95l-1.95,1.95zM264.97,453.93l1.95,-1.95l1.95,1.95l-1.95,1.95zM258.97,453.93l1.95,-1.95l1.95,1.95l-1.95,1.95zM261.97,456.93l1.95,-1.95l1.95,1.95l-1.95,1.95zM261.97,450.93l1.95,-1.95l1.95,1.95l-1.95,1.95zM264.97,463.88l1.95,-1.95l1.95,1.95l-1.95,1.95zM258.97,463.88l1.95,-1.95l1.95,1.95l-1.95,1.95zM261.97,466.88l1.95,-1.95l1.95,1.95l-1.95,1.95zM261.97,460.88l1.95,-1.95l1.95,1.95l-1.95,1.95zM264.97,473.83l1.95,-1.95l1.95,1.95l-1.95,1.95zM258.97,473.83l1.95,-1.95l1.95,1.95l-1.95,1.95zM261.97,476.83l1.95,-1.95l1.95,1.95l-1.95,1.95zM261.97,470.83l1.95,-1.95l1.95,1.95l-1.95,1.95zM264.97,483.78l1.95,-1.95l1.95,1.95l-1.95,1.95zM258.97,483.78l1.95,-1.95l1.95,1.95l-1.95,1.95zM261.97,486.78l1.95,-1.95l1.95,1.95l-1.95,1.95zM261.97,480.78l1.95,-1.95l1.95,1.95l-1.95,1.95zM274.81,414.12l1.95,-1.95l1.95,1.95l-1.95,1.95zM268.81,414.12l1.95,-1.95l1.95,1.95l-1.95,1.95zM271.81,417.12l1.95,-1.95l1.95,1.95l-1.95,1.95zM271.81,411.12l1.95,-1.95l1.95,1.95l-1.95,1.95zM274.81,424.08l1.95,-1.95l1.95,1.95l-1.95,1.95zM268.81,424.08l1.95,-1.95l1.95,1.95l-1.95,1.95zM271.81,427.08l1.95,-1.95l1.95,1.95l-1.95,1.95zM271.81,421.08l1.95,-1.95l1.95,1.95l-1.95,1.95zM274.81,434.03l1.95,-1.95l1.95,1.95l-1.95,1.95zM268.81,434.03l1.95,-1.95l1.95,1.95l-1.95,1.95zM271.81,437.03l1.95,-1.95l1.95,1.95l-1.95,1.95zM271.81,431.03l1.95,-1.95l1.95,1.95l-1.95,1.95zM274.81,443.98l1.95,-1.95l1.95,1.95l-1.95,1.95zM268.81,443.98l1.95,-1.95l1.95,1.95l-1.95,1.95zM271.81,446.98l1.95,-1.95l1.95,1.95l-1.95,1.95zM271.81,440.98l1.95,-1.95l1.95,1.95l-1.95,1.95zM274.81,453.93l1.95,-1.95l1.95,1.95l-1.95,1.95zM268.81,453.93l1.95,-1.95l1.95,1.95l-1.95,1.95zM271.81,456.93l1.95,-1.95l1.95,1.95l-1.95,1.95zM271.81,450.93l1.95,-1.95l1.95,1.95l-1.95,1.95zM274.81,463.88l1.95,-1.95l1.95,1.95l-1.95,1.95zM268.81,463.88l1.95,-1.95l1.95,1.95l-1.95,1.95zM271.81,466.88l1.95,-1.95l1.95,1.95l-1.95,1.95zM271.81,460.88l1.95,-1.95l1.95,1.95l-1.95,1.95zM274.81,473.83l1.95,-1.95l1.95,1.95l-1.95,1.95zM268.81,473.83l1.95,-1.95l1.95,1.95l-1.95,1.95zM271.81,476.83l1.95,-1.95l1.95,1.95l-1.95,1.95zM271.81,470.83l1.95,-1.95l1.95,1.95l-1.95,1.95zM274.81,483.78l1.95,-1.95l1.95,1.95l-1.95,1.95zM268.81,483.78l1.95,-1.95l1.95,1.95l-1.95,1.95zM271.81,486.78l1.95,-1.95l1.95,1.95l-1.95,1.95zM271.81,480.78l1.95,-1.95l1.95,1.95l-1.95,1.95zM284.65,414.12l1.95,-1.95l1.95,1.95l-1.95,1.95zM278.65,414.12l1.95,-1.95l1.95,1.95l-1.95,1.95zM281.65,417.12l1.95,-1.95l1.95,1.95l-1.95,1.95zM281.65,411.12l1.95,-1.95l1.95,1.95l-1.95,1.95zM284.65,424.08l1.95,-1.95l1.95,1.95l-1.95,1.95zM278.65,424.08l1.95,-1.95l1.95,1.95l-1.95,1.95zM281.65,427.08l1.95,-1.95l1.95,1.95l-1.95,1.95zM281.65,421.08l1.95,-1.95l1.95,1.95l-1.95,1.95zM284.65,434.03l1.95,-1.95l1.95,1.95l-1.95,1.95zM278.65,434.03l1.95,-1.95l1.95,1.95l-1.95,1.95zM281.65,437.03l1.95,-1.95l1.95,1.95l-1.95,1.95zM281.65,431.03l1.95,-1.95l1.95,1.95l-1.95,1.95zM284.65,443.98l1.95,-1.95l1.95,1.95l-1.95,1.95zM278.65,443.98l1.95,-1.95l1.95,1.95l-1.95,1.95zM281.65,446.98l1.95,-1.95l1.95,1.95l-1.95,1.95zM281.65,440.98l1.95,-1.95l1.95,1.95l-1.95,1.95zM284.65,453.93l1.95,-1.95l1.95,1.95l-1.95,1.95zM278.65,453.93l1.95,-1.95l1.95,1.95l-1.95,1.95zM281.65,456.93l1.95,-1.95l1.95,1.95l-1.95,1.95zM281.65,450.93l1.95,-1.95l1.95,1.95l-1.95,1.95zM284.65,463.88l1.95,-1.95l1.95,1.95l-1.95,1.95zM278.65,463.88l1.95,-1.95l1.95,1.95l-1.95,1.95zM281.65,466.88l1.95,-1.95l1.95,1.95l-1.95,1.95zM281.65,460.88l1.95,-1.95l1.95,1.95l-1.95,1.95zM284.65,473.83l1.95,-1.95l1.95,1.95l-1.95,1.95zM278.65,473.83l1.95,-1.95l1.95,1.95l-1.95,1.95zM281.65,476.83l1.95,-1.95l1.95,1.95l-1.95,1.95zM281.65,470.83l1.95,-1.95l1.95,1.95l-1.95,1.95zM284.65,483.78l1.95,-1.95l1.95,1.95l-1.95,1.95zM278.65,483.78l1.95,-1.95l1.95,1.95l-1.95,1.95zM281.65,486.78l1.95,-1.95l1.95,1.95l-1.95,1.95zM281.65,480.78l1.95,-1.95l1.95,1.95l-1.95,1.95zM294.49,414.12l1.95,-1.95l1.95,1.95l-1.95,1.95zM288.49,414.12l1.95,-1.95l1.95,1.95l-1.95,1.95zM291.49,417.12l1.95,-1.95l1.95,1.95l-1.95,1.95zM291.49,411.12l1.95,-1.95l1.95,1.95l-1.95,1.95zM294.49,424.08l1.95,-1.95l1.95,1.95l-1.95,1.95zM288.49,424.08l1.95,-1.95l1.95,1.95l-1.95,1.95zM291.49,427.08l1.95,-1.95l1.95,1.95l-1.95,1.95zM291.49,421.08l1.95,-1.95l1.95,1.95l-1.95,1.95zM294.49,434.03l1.95,-1.95l1.95,1.95l-1.95,1.95zM288.49,434.03l1.95,-1.95l1.95,1.95l-1.95,1.95zM291.49,437.03l1.95,-1.95l1.95,1.95l-1.95,1.95zM291.49,431.03l1.95,-1.95l1.95,1.95l-1.95,1.95zM294.49,443.98l1.95,-1.95l1.95,1.95l-1.95,1.95zM288.49,443.98l1.95,-1.95l1.95,1.95l-1.95,1.95zM291.49,446.98l1.95,-1.95l1.95,1.95l-1.95,1.95zM291.49,440.98l1.95,-1.95l1.95,1.95l-1.95,1.95zM294.49,453.93l1.95,-1.95l1.95,1.95l-1.95,1.95zM288.49,453.93l1.95,-1.95l1.95,1.95l-1.95,1.95zM291.49,456.93l1.95,-1.95l1.95,1.95l-1.95,1.95zM291.49,450.93l1.95,-1.95l1.95,1.95l-1.95,1.95zM294.49,463.88l1.95,-1.95l1.95,1.95l-1.95,1.95zM288.49,463.88l1.95,-1.95l1.95,1.95l-1.95,1.95zM291.49,466.88l1.95,-1.95l1.95,1.95l-1.95,1.95zM291.49,460.88l1.95,-1.95l1.95,1.95l-1.95,1.95zM294.49,473.83l1.95,-1.95l1.95,1.95l-1.95,1.95zM288.49,473.83l1.95,-1.95l1.95,1.95l-1.95,1.95zM291.49,476.83l1.95,-1.95l1.95,1.95l-1.95,1.95zM291.49,470.83l1.95,-1.95l1.95,1.95l-1.95,1.95zM294.49,483.78l1.95,-1.95l1.95,1.95l-1.95,1.95zM288.49,483.78l1.95,-1.95l1.95,1.95l-1.95,1.95zM291.49,486.78l1.95,-1.95l1.95,1.95l-1.95,1.95zM291.49,480.78l1.95,-1.95l1.95,1.95l-1.95,1.95zM304.33,414.12l1.95,-1.95l1.95,1.95l-1.95,1.95zM298.33,414.12l1.95,-1.95l1.95,1.95l-1.95,1.95zM301.33,417.12l1.95,-1.95l1.95,1.95l-1.95,1.95zM301.33,411.12l1.95,-1.95l1.95,1.95l-1.95,1.95zM304.33,424.08l1.95,-1.95l1.95,1.95l-1.95,1.95zM298.33,424.08l1.95,-1.95l1.95,1.95l-1.95,1.95zM301.33,427.08l1.95,-1.95l1.95,1.95l-1.95,1.95zM301.33,421.08l1.95,-1.95l1.95,1.95l-1.95,1.95zM304.33,434.03l1.95,-1.95l1.95,1.95l-1.95,1.95zM298.33,434.03l1.95,-1.95l1.95,1.95l-1.95,1.95zM301.33,437.03l1.95,-1.95l1.95,1.95l-1.95,1.95zM301.33,431.03l1.95,-1.95l1.95,1.95l-1.95,1.95zM304.33,443.98l1.95,-1.95l1.95,1.95l-1.95,1.95zM298.33,443.98l1.95,-1.95l1.95,1.95l-1.95,1.95zM301.33,446.98l1.95,-1.95l1.95,1.95l-1.95,1.95zM301.33,440.98l1.95,-1.95l1.95,1.95l-1.95,1.95zM304.33,453.93l1.95,-1.95l1.95,1.95l-1.95,1.95zM298.33,453.93l1.95,-1.95l1.95,1.95l-1.95,1.95zM301.33,456.93l1.95,-1.95l1.95,1.95l-1.95,1.95zM301.33,450.93l1.95,-1.95l1.95,1.95l-1.95,1.95zM304.33,463.88l1.95,-1.95l1.95,1.95l-1.95,1.95zM298.33,463.88l1.95,-1.95l1.95,1.95l-1.95,1.95zM301.33,466.88l1.95,-1.95l1.95,1.95l-1.95,1.95zM301.33,460.88l1.95,-1.95l1.95,1.95l-1.95,1.95zM304.33,473.83l1.95,-1.95l1.95,1.95l-1.95,1.95zM298.33,473.83l1.95,-1.95l1.95,1.95l-1.95,1.95zM301.33,476.83l1.95,-1.95l1.95,1.95l-1.95,1.95zM301.33,470.83l1.95,-1.95l1.95,1.95l-1.95,1.95zM304.33,483.78l1.95,-1.95l1.95,1.95l-1.95,1.95zM298.33,483.78l1.95,-1.95l1.95,1.95l-1.95,1.95zM301.33,486.78l1.95,-1.95l1.95,1.95l-1.95,1.95zM301.33,480.78l1.95,-1.95l1.95,1.95l-1.95,1.95zM314.17,414.12l1.95,-1.95l1.95,1.95l-1.95,1.95zM308.17,414.12l1.95,-1.95l1.95,1.95l-1.95,1.95zM311.17,417.12l1.95,-1.95l1.95,1.95l-1.95,1.95zM311.17,411.12l1.95,-1.95l1.95,1.95l-1.95,1.95zM314.17,424.08l1.95,-1.95l1.95,1.95l-1.95,1.95zM308.17,424.08l1.95,-1.95l1.95,1.95l-1.95,1.95zM311.17,427.08l1.95,-1.95l1.95,1.95l-1.95,1.95zM311.17,421.08l1.95,-1.95l1.95,1.95l-1.95,1.95zM314.17,434.03l1.95,-1.95l1.95,1.95l-1.95,1.95zM308.17,434.03l1.95,-1.95l1.95,1.95l-1.95,1.95zM311.17,437.03l1.95,-1.95l1.95,1.95l-1.95,1.95zM311.17,431.03l1.95,-1.95l1.95,1.95l-1.95,1.95zM314.17,443.98l1.95,-1.95l1.95,1.95l-1.95,1.95zM308.17,443.98l1.95,-1.95l1.95,1.95l-1.95,1.95zM311.17,446.98l1.95,-1.95l1.95,1.95l-1.95,1.95zM311.17,440.98l1.95,-1.95l1.95,1.95l-1.95,1.95zM314.17,453.93l1.95,-1.95l1.95,1.95l-1.95,1.95zM308.17,453.93l1.95,-1.95l1.95,1.95l-1.95,1.95zM311.17,456.93l1.95,-1.95l1.95,1.95l-1.95,1.95zM311.17,450.93l1.95,-1.95l1.95,1.95l-1.95,1.95zM314.17,463.88l1.95,-1.95l1.95,1.95l-1.95,1.95zM308.17,463.88l1.95,-1.95l1.95,1.95l-1.95,1.95zM311.17,466.88l1.95,-1.95l1.95,1.95l-1.95,1.95zM311.17,460.88l1.95,-1.95l1.95,1.95l-1.95,1.95zM314.17,473.83l1.95,-1.95l1.95,1.95l-1.95,1.95zM308.17,473.83l1.95,-1.95l1.95,1.95l-1.95,1.95zM311.17,476.83l1.95,-1.95l1.95,1.95l-1.95,1.95zM311.17,470.83l1.95,-1.95l1.95,1.95l-1.95,1.95zM314.17,483.78l1.95,-1.95l1.95,1.95l-1.95,1.95zM308.17,483.78l1.95,-1.95l1.95,1.95l-1.95,1.95zM311.17,486.78l1.95,-1.95l1.95,1.95l-1.95,1.95zM311.17,480.78l1.95,-1.95l1.95,1.95l-1.95,1.95zM324.01,414.12l1.95,-1.95l1.95,1.95l-1.95,1.95zM318.01,414.12l1.95,-1.95l1.95,1.95l-1.95,1.95zM321.01,417.12l1.95,-1.95l1.95,1.95l-1.95,1.95zM321.01,411.12l1.95,-1.95l1.95,1.95l-1.95,1.95zM324.01,424.08l1.95,-1.95l1.95,1.95l-1.95,1.95zM318.01,424.08l1.95,-1.95l1.95,1.95l-1.95,1.95zM321.01,427.08l1.95,-1.95l1.95,1.95l-1.95,1.95zM321.01,421.08l1.95,-1.95l1.95,1.95l-1.95,1.95zM324.01,434.03l1.95,-1.95l1.95,1.95l-1.95,1.95zM318.01,434.03l1.95,-1.95l1.95,1.95l-1.95,1.95zM321.01,437.03l1.95,-1.95l1.95,1.95l-1.95,1.95zM321.01,431.03l1.95,-1.95l1.95,1.95l-1.95,1.95zM324.01,443.98l1.95,-1.95l1.95,1.95l-1.95,1.95zM318.01,443.98l1.95,-1.95l1.95,1.95l-1.95,1.95zM321.01,446.98l1.95,-1.95l1.95,1.95l-1.95,1.95zM321.01,440.98l1.95,-1.95l1.95,1.95l-1.95,1.95zM324.01,453.93l1.95,-1.95l1.95,1.95l-1.95,1.95zM318.01,453.93l1.95,-1.95l1.95,1.95l-1.95,1.95zM321.01,456.93l1.95,-1.95l1.95,1.95l-1.95,1.95zM321.01,450.93l1.95,-1.95l1.95,1.95l-1.95,1.95zM324.01,463.88l1.95,-1.95l1.95,1.95l-1.95,1.95zM318.01,463.88l1.95,-1.95l1.95,1.95l-1.95,1.95zM321.01,466.88l1.95,-1.95l1.95,1.95l-1.95,1.95zM321.01,460.88l1.95,-1.95l1.95,1.95l-1.95,1.95zM324.01,473.83l1.95,-1.95l1.95,1.95l-1.95,1.95zM318.01,473.83l1.95,-1.95l1.95,1.95l-1.95,1.95zM321.01,476.83l1.95,-1.95l1.95,1.95l-1.95,1.95zM321.01,470.83l1.95,-1.95l1.95,1.95l-1.95,1.95zM324.01,483.78l1.95,-1.95l1.95,1.95l-1.95,1.95zM318.01,483.78l1.95,-1.95l1.95,1.95l-1.95,1.95zM321.01,486.78l1.95,-1.95l1.95,1.95l-1.95,1.95zM321.01,480.78l1.95,-1.95l1.95,1.95l-1.95,1.95zM333.85,414.12l1.95,-1.95l1.95,1.95l-1.95,1.95zM327.85,414.12l1.95,-1.95l1.95,1.95l-1.95,1.95zM330.85,417.12l1.95,-1.95l1.95,1.95l-1.95,1.95zM330.85,411.12l1.95,-1.95l1.95,1.95l-1.95,1.95zM333.85,424.08l1.95,-1.95l1.95,1.95l-1.95,1.95zM327.85,424.08l1.95,-1.95l1.95,1.95l-1.95,1.95zM330.85,427.08l1.95,-1.95l1.95,1.95l-1.95,1.95zM330.85,421.08l1.95,-1.95l1.95,1.95l-1.95,1.95zM333.85,434.03l1.95,-1.95l1.95,1.95l-1.95,1.95zM327.85,434.03l1.95,-1.95l1.95,1.95l-1.95,1.95zM330.85,437.03l1.95,-1.95l1.95,1.95l-1.95,1.95zM330.85,431.03l1.95,-1.95l1.95,1.95l-1.95,1.95zM333.85,443.98l1.95,-1.95l1.95,1.95l-1.95,1.95zM327.85,443.98l1.95,-1.95l1.95,1.95l-1.95,1.95zM330.85,446.98l1.95,-1.95l1.95,1.95l-1.95,1.95zM330.85,440.98l1.95,-1.95l1.95,1.95l-1.95,1.95zM333.85,453.93l1.95,-1.95l1.95,1.95l-1.95,1.95zM327.85,453.93l1.95,-1.95l1.95,1.95l-1.95,1.95zM330.85,456.93l1.95,-1.95l1.95,1.95l-1.95,1.95zM330.85,450.93l1.95,-1.95l1.95,1.95l-1.95,1.95zM333.85,463.88l1.95,-1.95l1.95,1.95l-1.95,1.95zM327.85,463.88l1.95,-1.95l1.95,1.95l-1.95,1.95zM330.85,466.88l1.95,-1.95l1.95,1.95l-1.95,1.95zM330.85,460.88l1.95,-1.95l1.95,1.95l-1.95,1.95zM333.85,473.83l1.95,-1.95l1.95,1.95l-1.95,1.95zM327.85,473.83l1.95,-1.95l1.95,1.95l-1.95,1.95zM330.85,476.83l1.95,-1.95l1.95,1.95l-1.95,1.95zM330.85,470.83l1.95,-1.95l1.95,1.95l-1.95,1.95zM333.85,483.78l1.95,-1.95l1.95,1.95l-1.95,1.95zM327.85,483.78l1.95,-1.95l1.95,1.95l-1.95,1.95zM330.85,486.78l1.95,-1.95l1.95,1.95l-1.95,1.95zM330.85,480.78l1.95,-1.95l1.95,1.95l-1.95,1.95zM343.69,414.12l1.95,-1.95l1.95,1.95l-1.95,1.95zM337.69,414.12l1.95,-1.95l1.95,1.95l-1.95,1.95zM340.69,417.12l1.95,-1.95l1.95,1.95l-1.95,1.95zM340.69,411.12l1.95,-1.95l1.95,1.95l-1.95,1.95zM343.69,424.08l1.95,-1.95l1.95,1.95l-1.95,1.95zM337.69,424.08l1.95,-1.95l1.95,1.95l-1.95,1.95zM340.69,427.08l1.95,-1.95l1.95,1.95l-1.95,1.95zM340.69,421.08l1.95,-1.95l1.95,1.95l-1.95,1.95zM343.69,434.03l1.95,-1.95l1.95,1.95l-1.95,1.95zM337.69,434.03l1.95,-1.95l1.95,1.95l-1.95,1.95zM340.69,437.03l1.95,-1.95l1.95,1.95l-1.95,1.95zM340.69,431.03l1.95,-1.95l1.95,1.95l-1.95,1.95zM343.69,443.98l1.95,-1.95l1.95,1.95l-1.95,1.95zM337.69,443.98l1.95,-1.95l1.95,1.95l-1.95,1.95zM340.69,446.98l1.95,-1.95l1.95,1.95l-1.95,1.95zM340.69,440.98l1.95,-1.95l1.95,1.95l-1.95,1.95zM343.69,453.93l1.95,-1.95l1.95,1.95l-1.95,1.95zM337.69,453.93l1.95,-1.95l1.95,1.95l-1.95,1.95zM340.69,456.93l1.95,-1.95l1.95,1.95l-1.95,1.95zM340.69,450.93l1.95,-1.95l1.95,1.95l-1.95,1.95zM343.69,463.88l1.95,-1.95l1.95,1.95l-1.95,1.95zM337.69,463.88l1.95,-1.95l1.95,1.95l-1.95,1.95zM340.69,466.88l1.95,-1.95l1.95,1.95l-1.95,1.95zM340.69,460.88l1.95,-1.95l1.95,1.95l-1.95,1.95zM343.69,473.83l1.95,-1.95l1.95,1.95l-1.95,1.95zM337.69,473.83l1.95,-1.95l1.95,1.95l-1.95,1.95zM340.69,476.83l1.95,-1.95l1.95,1.95l-1.95,1.95zM340.69,470.83l1.95,-1.95l1.95,1.95l-1.95,1.95zM343.69,483.78l1.95,-1.95l1.95,1.95l-1.95,1.95zM337.69,483.78l1.95,-1.95l1.95,1.95l-1.95,1.95zM340.69,486.78l1.95,-1.95l1.95,1.95l-1.95,1.95zM340.69,480.78l1.95,-1.95l1.95,1.95l-1.95,1.95zM353.53,414.12l1.95,-1.95l1.95,1.95l-1.95,1.95zM347.53,414.12l1.95,-1.95l1.95,1.95l-1.95,1.95zM350.53,417.12l1.95,-1.95l1.95,1.95l-1.95,1.95zM350.53,411.12l1.95,-1.95l1.95,1.95l-1.95,1.95zM353.53,424.08l1.95,-1.95l1.95,1.95l-1.95,1.95zM347.53,424.08l1.95,-1.95l1.95,1.95l-1.95,1.95zM350.53,427.08l1.95,-1.95l1.95,1.95l-1.95,1.95zM350.53,421.08l1.95,-1.95l1.95,1.95l-1.95,1.95zM353.53,434.03l1.95,-1.95l1.95,1.95l-1.95,1.95zM347.53,434.03l1.95,-1.95l1.95,1.95l-1.95,1.95zM350.53,437.03l1.95,-1.95l1.95,1.95l-1.95,1.95zM350.53,431.03l1.95,-1.95l1.95,1.95l-1.95,1.95zM353.53,443.98l1.95,-1.95l1.95,1.95l-1.95,1.95zM347.53,443.98l1.95,-1.95l1.95,1.95l-1.95,1.95zM350.53,446.98l1.95,-1.95l1.95,1.95l-1.95,1.95zM350.53,440.98l1.95,-1.95l1.95,1.95l-1.95,1.95zM353.53,453.93l1.95,-1.95l1.95,1.95l-1.95,1.95zM347.53,453.93l1.95,-1.95l1.95,1.95l-1.95,1.95zM350.53,456.93l1.95,-1.95l1.95,1.95l-1.95,1.95zM350.53,450.93l1.95,-1.95l1.95,1.95l-1.95,1.95zM353.53,463.88l1.95,-1.95l1.95,1.95l-1.95,1.95zM347.53,463.88l1.95,-1.95l1.95,1.95l-1.95,1.95zM350.53,466.88l1.95,-1.95l1.95,1.95l-1.95,1.95zM350.53,460.88l1.95,-1.95l1.95,1.95l-1.95,1.95zM353.53,473.83l1.95,-1.95l1.95,1.95l-1.95,1.95zM347.53,473.83l1.95,-1.95l1.95,1.95l-1.95,1.95zM350.53,476.83l1.95,-1.95l1.95,1.95l-1.95,1.95zM350.53,470.83l1.95,-1.95l1.95,1.95l-1.95,1.95zM353.53,483.78l1.95,-1.95l1.95,1.95l-1.95,1.95zM347.53,483.78l1.95,-1.95l1.95,1.95l-1.95,1.95zM350.53,486.78l1.95,-1.95l1.95,1.95l-1.95,1.95zM350.53,480.78l1.95,-1.95l1.95,1.95l-1.95,1.95zM363.37,414.12l1.95,-1.95l1.95,1.95l-1.95,1.95zM357.37,414.12l1.95,-1.95l1.95,1.95l-1.95,1.95zM360.37,417.12l1.95,-1.95l1.95,1.95l-1.95,1.95zM360.37,411.12l1.95,-1.95l1.95,1.95l-1.95,1.95zM363.37,424.08l1.95,-1.95l1.95,1.95l-1.95,1.95zM357.37,424.08l1.95,-1.95l1.95,1.95l-1.95,1.95zM360.37,427.08l1.95,-1.95l1.95,1.95l-1.95,1.95zM360.37,421.08l1.95,-1.95l1.95,1.95l-1.95,1.95zM363.37,434.03l1.95,-1.95l1.95,1.95l-1.95,1.95zM357.37,434.03l1.95,-1.95l1.95,1.95l-1.95,1.95zM360.37,437.03l1.95,-1.95l1.95,1.95l-1.95,1.95zM360.37,431.03l1.95,-1.95l1.95,1.95l-1.95,1.95zM363.37,443.98l1.95,-1.95l1.95,1.95l-1.95,1.95zM357.37,443.98l1.95,-1.95l1.95,1.95l-1.95,1.95zM360.37,446.98l1.95,-1.95l1.95,1.95l-1.95,1.95zM360.37,440.98l1.95,-1.95l1.95,1.95l-1.95,1.95zM363.37,453.93l1.95,-1.95l1.95,1.95l-1.95,1.95zM357.37,453.93l1.95,-1.95l1.95,1.95l-1.95,1.95zM360.37,456.93l1.95,-1.95l1.95,1.95l-1.95,1.95zM360.37,450.93l1.95,-1.95l1.95,1.95l-1.95,1.95zM363.37,463.88l1.95,-1.95l1.95,1.95l-1.95,1.95zM357.37,463.88l1.95,-1.95l1.95,1.95l-1.95,1.95zM360.37,466.88l1.95,-1.95l1.95,1.95l-1.95,1.95zM360.37,460.88l1.95,-1.95l1.95,1.95l-1.95,1.95zM363.37,473.83l1.95,-1.95l1.95,1.95l-1.95,1.95zM357.37,473.83l1.95,-1.95l1.95,1.95l-1.95,1.95zM360.37,476.83l1.95,-1.95l1.95,1.95l-1.95,1.95zM360.37,470.83l1.95,-1.95l1.95,1.95l-1.95,1.95zM363.37,483.78l1.95,-1.95l1.95,1.95l-1.95,1.95zM357.37,483.78l1.95,-1.95l1.95,1.95l-1.95,1.95zM360.37,486.78l1.95,-1.95l1.95,1.95l-1.95,1.95zM360.37,480.78l1.95,-1.95l1.95,1.95l-1.95,1.95zM367.21,414.12l1.95,-1.95l1.95,1.95l-1.95,1.95zM370.21,417.12l1.95,-1.95l1.95,1.95l-1.95,1.95zM373.21,424.08l1.95,-1.95l1.95,1.95l-1.95,1.95zM367.21,424.08l1.95,-1.95l1.95,1.95l-1.95,1.95zM370.21,427.08l1.95,-1.95l1.95,1.95l-1.95,1.95zM370.21,421.08l1.95,-1.95l1.95,1.95l-1.95,1.95zM373.21,434.03l1.95,-1.95l1.95,1.95l-1.95,1.95zM367.21,434.03l1.95,-1.95l1.95,1.95l-1.95,1.95zM370.21,437.03l1.95,-1.95l1.95,1.95l-1.95,1.95zM370.21,431.03l1.95,-1.95l1.95,1.95l-1.95,1.95zM373.21,443.98l1.95,-1.95l1.95,1.95l-1.95,1.95zM367.21,443.98l1.95,-1.95l1.95,1.95l-1.95,1.95zM370.21,446.98l1.95,-1.95l1.95,1.95l-1.95,1.95zM370.21,440.98l1.95,-1.95l1.95,1.95l-1.95,1.95zM373.21,453.93l1.95,-1.95l1.95,1.95l-1.95,1.95zM367.21,453.93l1.95,-1.95l1.95,1.95l-1.95,1.95zM370.21,456.93l1.95,-1.95l1.95,1.95l-1.95,1.95zM370.21,450.93l1.95,-1.95l1.95,1.95l-1.95,1.95zM373.21,463.88l1.95,-1.95l1.95,1.95l-1.95,1.95zM367.21,463.88l1.95,-1.95l1.95,1.95l-1.95,1.95zM370.21,466.88l1.95,-1.95l1.95,1.95l-1.95,1.95zM370.21,460.88l1.95,-1.95l1.95,1.95l-1.95,1.95zM373.21,473.83l1.95,-1.95l1.95,1.95l-1.95,1.95zM367.21,473.83l1.95,-1.95l1.95,1.95l-1.95,1.95zM370.21,476.83l1.95,-1.95l1.95,1.95l-1.95,1.95zM370.21,470.83l1.95,-1.95l1.95,1.95l-1.95,1.95zM367.21,483.78l1.95,-1.95l1.95,1.95l-1.95,1.95zM370.21,480.78l1.95,-1.95l1.95,1.95l-1.95,1.95z"/>
<g fill="#fff"><circle cx="209.80" cy="419.10" r="3.5"/><circle cx="209.80" cy="429.05" r="3.5"/><circle cx="209.80" cy="439.00" r="3.5"/><circle cx="209.80" cy="448.95" r="3.5"/><circle cx="209.80" cy="458.90" r="3.5"/><circle cx="209.80" cy="468.85" r="3.5"/><circle cx="209.80" cy="478.80" r="3.5"/><circle cx="219.64" cy="419.10" r="3.5"/><circle cx="219.64" cy="429.05" r="3.5"/><circle cx="219.64" cy="439.00" r="3.5"/><circle cx="219.64" cy="448.95" r="3.5"/><circle cx="219.64" cy="458.90" r="3.5"/><circle cx="219.64" cy="468.85" r="3.5"/><circle cx="219.64" cy="478.80" r="3.5"/><circle cx="229.48" cy="419.10" r="3.5"/><circle cx="229.48" cy="429.05" r="3.5"/><circle cx="229.48" cy="439.00" r="3.5"/><circle cx="229.48" cy="448.95" r="3.5"/><circle cx="229.48" cy="458.90" r="3.5"/><circle cx="229.48" cy="468.85" r="3.5"/><circle cx="229.48" cy="478.80" r="3.5"/><circle cx="239.32" cy="419.10" r="3.5"/><circle cx="239.32" cy="429.05" r="3.5"/><circle cx="239.32" cy="439.00" r="3.5"/><circle cx="239.32" cy="448.95" r="3.5"/><circle cx="239.32" cy="458.90" r="3.5"/><circle cx="239.32" cy="468.85" r="3.5"/><circle cx="239.32" cy="478.80" r="3.5"/><circle cx="249.16" cy="419.10" r="3.5"/><circle cx="249.16" cy="429.05" r="3.5"/><circle cx="249.16" cy="439.00" r="3.5"/><circle cx="249.16" cy="448.95" r="3.5"/><circle cx="249.16" cy="458.90" r="3.5"/><circle cx="249.16" cy="468.85" r="3.5"/><circle cx="249.16" cy="478.80" r="3.5"/><circle cx="259.00" cy="419.10" r="3.5"/><circle cx="259.00" cy="429.05" r="3.5"/><circle cx="259.00" cy="439.00" r="3.5"/><circle cx="259.00" cy="448.95" r="3.5"/><circle cx="259.00" cy="458.90" r="3.5"/><circle cx="259.00" cy="468.85" r="3.5"/><circle cx="259.00" cy="478.80" r="3.5"/><circle cx="268.84" cy="419.10" r="3.5"/><circle cx="268.84" cy="429.05" r="3.5"/><circle cx="268.84" cy="439.00" r="3.5"/><circle cx="268.84" cy="448.95" r="3.5"/><circle cx="268.84" cy="458.90" r="3.5"/><circle cx="268.84" cy="468.85" r="3.5"/><circle cx="268.84" cy="478.80" r="3.5"/><circle cx="278.68" cy="419.10" r="3.5"/><circle cx="278.68" cy="429.05" r="3.5"/><circle cx="278.68" cy="439.00" r="3.5"/><circle cx="278.68" cy="448.95" r="3.5"/><circle cx="278.68" cy="458.90" r="3.5"/><circle cx="278.68" cy="468.85" r="3.5"/><circle cx="278.68" cy="478.80" r="3.5"/><circle cx="288.52" cy="419.10" r="3.5"/><circle cx="288.52" cy="429.05" r="3.5"/><circle cx="288.52" cy="439.00" r="3.5"/><circle cx="288.52" cy="448.95" r="3.5"/><circle cx="288.52" cy="458.90" r="3.5"/><circle cx="288.52" cy="468.85" r="3.5"/><circle cx="288.52" cy="478.80" r="3.5"/><circle cx="298.36" cy="419.10" r="3.5"/><circle cx="298.36" cy="429.05" r="3.5"/><circle cx="298.36" cy="439.00" r="3.5"/><circle cx="298.36" cy="448.95" r="3.5"/><circle cx="298.36" cy="458.90" r="3.5"/><circle cx="298.36" cy="468.85" r="3.5"/><circle cx="298.36" cy="478.80" r="3.5"/><circle cx="308.20" cy="419.10" r="3.5"/><circle cx="308.20" cy="429.05" r="3.5"/><circle cx="308.20" cy="439.00" r="3.5"/><circle cx="308.20" cy="448.95" r="3.5"/><circle cx="308.20" cy="458.90" r="3.5"/><circle cx="308.20" cy="468.85" r="3.5"/><circle cx="308.20" cy="478.80" r="3.5"/><circle cx="318.04" cy="419.10" r="3.5"/><circle cx="318.04" cy="429.05" r="3.5"/><circle cx="318.04" cy="439.00" r="3.5"/><circle cx="318.04" cy="448.95" r="3.5"/><circle cx="318.04" cy="458.90" r="3.5"/><circle cx="318.04" cy="468.85" r="3.5"/><circle cx="318.04" cy="478.80" r="3.5"/><circle cx="327.88" cy="419.10" r="3.5"/><circle cx="327.88" cy="429.05" r="3.5"/><circle cx="327.88" cy="439.00" r="3.5"/><circle cx="327.88" cy="448.95" r="3.5"/><circle cx="327.88" cy="458.90" r="3.5"/><circle cx="327.88" cy="468.85" r="3.5"/><circle cx="327.88" cy="478.80" r="3.5"/><circle cx="337.72" cy="419.10" r="3.5"/><circle cx="337.72" cy="429.05" r="3.5"/><circle cx="337.72" cy="439.00" r="3.5"/><circle cx="337.72" cy="448.95" r="3.5"/><circle cx="337.72" cy="458.90" r="3.5"/><circle cx="337.72" cy="468.85" r="3.5"/><circle cx="337.72" cy="478.80" r="3.5"/><circle cx="347.56" cy="419.10" r="3.5"/><circle cx="347.56" cy="429.05" r="3.5"/><circle cx="347.56" cy="439.00" r="3.5"/><circle cx="347.56" cy="448.95" r="3.5"/><circle cx="347.56" cy="458.90" r="3.5"/><circle cx="347.56" cy="468.85" r="3.5"/><circle cx="347.56" cy="478.80" r="3.5"/><circle cx="357.40" cy="419.10" r="3.5"/><circle cx="357.40" cy="429.05" r="3.5"/><circle cx="357.40" cy="439.00" r="3.5"/><circle cx="357.40" cy="448.95" r="3.5"/><circle cx="357.40" cy="458.90" r="3.5"/><circle cx="357.40" cy="468.85" r="3.5"/><circle cx="357.40" cy="478.80" r="3.5"/><circle cx="367.24" cy="419.10" r="3.5"/><circle cx="367.24" cy="429.05" r="3.5"/><circle cx="367.24" cy="439.00" r="3.5"/><circle cx="367.24" cy="448.95" r="3.5"/><circle cx="367.24" cy="458.90" r="3.5"/><circle cx="367.24" cy="468.85" r="3.5"/><circle cx="367.24" cy="478.80" r="3.5"/></g>
<path class="tb" d="M760,528 H1120.6 V604 H760 Z M760,547.1 H1120.6 M760,566.2 H1120.6 M760,585.3 H1120.6 M854.5,528 V604 M920.6,528 V604 M987.7,528 V604 M1053.9,528 V604"/>
<text x="0" y="0" font-size="19.000" transform="translate(145.08,61.52) scale(0.8409,1)">110</text>
<text x="0" y="0" font-size="19.000" transform="translate(511.68,60.48) scale(0.9826,1)">70</text>
<text x="0" y="0" font-size="19.000" transform="translate(585.03,118.00) scale(0.9538,1)">28</text>
<text x="0" y="0" font-size="19.000" transform="translate(812.08,51.00) scale(0.8914,1)">65</text>
<text x="0" y="0" font-size="19.000" transform="translate(901.36,135.00) scale(0.9297,1)">70</text>
<text x="0" y="0" font-size="19.000" transform="translate(726.43,144.00) scale(0.8602,1)">52</text>
<text x="0" y="0" font-size="19.000" transform="translate(701.45,212.94) scale(0.8180,1)">52</text>
<text x="0" y="0" font-size="19.000" transform="translate(114.58,318.00) scale(0.8437,1)">310</text>
<text x="0" y="0" font-size="19.000" transform="translate(605.82,454.52) scale(0.9416,1)">620</text>
<text x="0" y="0" font-size="19.000" transform="translate(648.03,454.52) scale(0.9817,1)">750</text>
<text x="0" y="0" font-size="20.000" transform="translate(303.92,594.84) scale(0.8395,1)">B</text>
<text x="0" y="0" font-size="20.000" transform="translate(303.10,615.52) scale(0.8161,1)">A</text>
<text x="0" y="0" font-size="17.300" class="tab" transform="translate(791.55,545.36) scale(1.0446,1)">Код</text>
<text x="0" y="0" font-size="17.300" class="tab" transform="translate(786.82,564.00) scale(0.9375,1)">B75U</text>
<text x="0" y="0" font-size="17.300" class="tab" transform="translate(786.82,583.16) scale(0.9375,1)">B65U</text>
<text x="0" y="0" font-size="17.300" class="tab" transform="translate(786.82,602.52) scale(0.9375,1)">B55U</text>
<text x="0" y="0" font-size="17.300" class="tab" transform="translate(882.02,545.00) scale(0.9633,1)">A</text>
<text x="0" y="0" font-size="17.300" class="tab" transform="translate(870.46,563.32) scale(0.9151,1)">1700</text>
<text x="0" y="0" font-size="17.300" class="tab" transform="translate(869.11,582.66) scale(0.9558,1)">1600</text>
<text x="0" y="0" font-size="17.300" class="tab" transform="translate(869.11,601.66) scale(0.9558,1)">1500</text>
<text x="0" y="0" font-size="17.300" class="tab" transform="translate(949.17,545.52) scale(0.9849,1)">B</text>
<text x="0" y="0" font-size="17.300" class="tab" transform="translate(936.68,563.32) scale(0.9097,1)">1260</text>
<text x="0" y="0" font-size="17.300" class="tab" transform="translate(937.48,582.66) scale(0.8799,1)">1160</text>
<text x="0" y="0" font-size="17.300" class="tab" transform="translate(935.43,601.66) scale(0.9367,1)">1060</text>
<text x="0" y="0" font-size="17.300" class="tab" transform="translate(1005.72,563.84) scale(1.0040,1)">390</text>
<text x="0" y="0" font-size="17.300" class="tab" transform="translate(1005.72,583.00) scale(1.0040,1)">390</text>
<text x="0" y="0" font-size="17.300" class="tab" transform="translate(1005.80,602.00) scale(0.9994,1)">420</text>
<text x="0" y="0" font-size="17.300" class="tab" transform="translate(1059.01,545.52) scale(1.0345,1)">Объем</text>
<text x="0" y="0" font-size="17.300" class="tab" transform="translate(1065.36,563.84) scale(1.0719,1)"><tspan font-size="12.5">≈</tspan>120<tspan font-size="13" dy="-3">*</tspan></text>
<text x="0" y="0" font-size="17.300" class="tab" transform="translate(1067.10,583.00) scale(1.0286,1)"><tspan font-size="12.5">≈</tspan>110<tspan font-size="13" dy="-3">*</tspan></text>
<text x="0" y="0" font-size="17.300" class="tab" transform="translate(1067.10,602.00) scale(1.0286,1)"><tspan font-size="12.5">≈</tspan>110<tspan font-size="13" dy="-3">*</tspan></text>
<text x="0" y="0" font-size="12.000" class="foot" transform="translate(760.65,627.16) scale(1.1112,1)"><tspan font-size="10" dy="-1">*</tspan><tspan dy="1">Среднее водоизмещение 70 л.</tspan></text>
</svg>
</body></html>
